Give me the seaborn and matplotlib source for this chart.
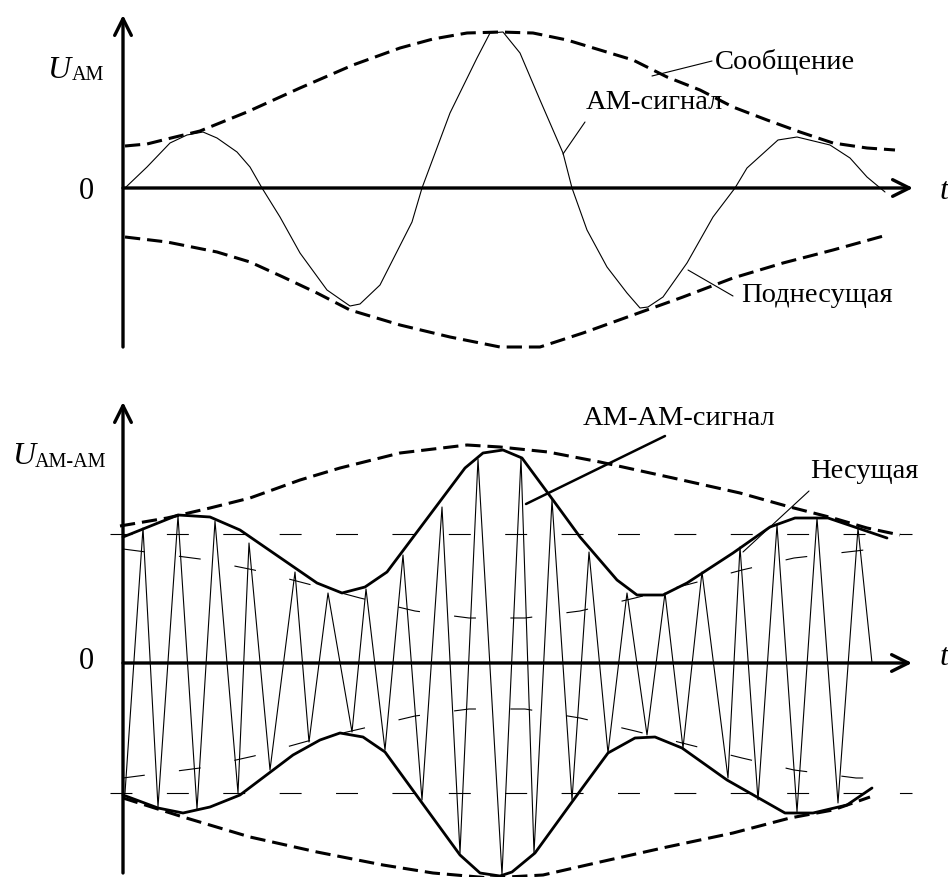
import matplotlib
matplotlib.use("Agg")
import matplotlib.pyplot as plt
import seaborn as sns

# ---- top panel: AM signal, message envelope ----
am_t = [0.2, 2.4, 4.7, 6.4, 8.0, 9.4, 11.4, 12.7, 13.9, 15.7, 17.7, 20.4, 22.7, 23.7,
        25.7, 28.9, 29.9, 32.7, 35.4, 36.7, 38.0, 39.7, 41.7, 44.0, 44.9, 46.4, 48.4,
        50.4, 51.7, 52.5, 54.0, 56.4, 59.0, 61.2, 62.4, 65.5, 67.4, 70.7, 72.7, 74.4, 76.2]
am_u = [0.0, 0.21, 0.45, 0.53, 0.56, 0.50, 0.36, 0.21, 0.0, -0.29, -0.65, -1.02, -1.18, -1.16,
        -0.97, -0.34, 0.0, 0.75, 1.30, 1.55, 1.56, 1.35, 0.88, 0.35, 0.0, -0.42, -0.79,
        -1.05, -1.20, -1.19, -1.09, -0.75, -0.29, 0.0, 0.20, 0.48, 0.51, 0.43, 0.30, 0.11, -0.04]

msg_top_t = [0.2, 2.4, 4.4, 7.7, 12.4, 17.7, 23.0, 27.7, 31.0, 34.4, 37.7, 41.0, 44.4, 47.7,
             51.0, 54.4, 57.7, 61.0, 64.4, 67.7, 71.0, 74.4, 77.2]
msg_top_u = [0.42, 0.44, 0.49, 0.57, 0.76, 1.00, 1.23, 1.40, 1.49, 1.55, 1.56, 1.55, 1.48, 1.38,
             1.28, 1.11, 0.98, 0.81, 0.68, 0.56, 0.45, 0.40, 0.38]
msg_bot_t = [0.2, 4.4, 9.4, 12.7, 16.0, 19.4, 22.7, 27.7, 32.7, 37.7, 41.7, 46.0, 51.0, 56.0,
             61.0, 66.0, 71.0, 76.4]
msg_bot_u = [-0.49, -0.54, -0.64, -0.74, -0.89, -1.05, -1.22, -1.37, -1.49, -1.59, -1.59, -1.45,
             -1.27, -1.09, -0.90, -0.75, -0.62, -0.47]

# ---- bottom panel: AM-AM signal (peaks / troughs of the carrier) ----
carrier_t = [0.2, 2.0, 3.5, 5.5, 7.4, 9.2, 11.5, 12.6, 14.7, 17.2, 18.6, 20.5, 22.9, 24.3, 26.2,
             28.0, 29.9, 31.9, 33.7, 35.5, 37.9, 39.8, 41.1, 42.9, 44.9, 46.6, 48.5, 50.4, 52.4,
             54.2, 56.0, 57.9, 60.5, 61.7, 63.5, 65.4, 67.4, 69.4, 71.5, 73.5, 74.9]
carrier_u = [-1.30, 1.35, -1.44, 1.47, -1.46, 1.42, -1.30, 1.20, -1.07, 0.91, -0.79, 0.70, -0.69,
             0.74, -0.87, 1.08, -1.37, 1.56, -1.90, 2.04, -2.12, 2.05, -1.90, 1.63, -1.37, 1.11,
             -0.90, 0.70, -0.72, 0.70, -0.85, 0.91, -1.15, 1.16, -1.37, 1.38, -1.49, 1.45, -1.40,
             1.35, 0.0]

env_up_t = [0.0, 5.5, 8.7, 11.7, 19.4, 21.9, 24.2, 26.4, 34.2, 36.0, 38.0, 39.9, 43.0, 45.7,
            49.4, 51.4, 54.0, 56.4, 61.0, 64.7, 67.2, 70.5, 76.4]
env_up_u = [1.26, 1.48, 1.46, 1.33, 0.80, 0.70, 0.76, 0.91, 1.95, 2.10, 2.13, 2.05, 1.63, 1.26,
            0.83, 0.68, 0.68, 0.80, 1.10, 1.36, 1.45, 1.45, 1.25]
env_lo_t = [0.0, 3.5, 6.0, 8.7, 11.7, 17.0, 19.7, 21.7, 24.0, 26.2, 33.7, 35.7, 37.7, 38.9, 41.2,
            44.9, 48.5, 51.2, 53.2, 55.9, 60.4, 66.2, 69.0, 72.4, 74.9]
env_lo_u = [-1.32, -1.45, -1.50, -1.44, -1.32, -0.92, -0.77, -0.70, -0.74, -0.89, -1.92, -2.10,
            -2.13, -2.09, -1.90, -1.39, -0.90, -0.75, -0.74, -0.85, -1.17, -1.50, -1.50, -1.42, -1.25]

msg2_top_t = [-0.3, 4.4, 8.7, 12.7, 17.7, 21.7, 27.7, 34.4, 37.7, 42.5, 47.7, 55.0, 61.7, 66.7,
              71.0, 74.4, 77.7]
msg2_top_u = [1.37, 1.45, 1.55, 1.65, 1.83, 1.95, 2.10, 2.18, 2.16, 2.11, 2.01, 1.85, 1.70, 1.56,
              1.45, 1.35, 1.28]
msg2_bot_t = [0.0, 6.0, 12.7, 19.4, 26.0, 31.0, 36.7, 42.0, 47.7, 54.4, 61.0, 66.7, 71.0, 74.7]
msg2_bot_u = [-1.35, -1.54, -1.74, -1.89, -2.02, -2.10, -2.15, -2.12, -1.99, -1.84, -1.70, -1.55,
              -1.47, -1.34]

sub_t = [0.0, 7.7, 13.1, 18.5, 23.7, 29.2, 34.6, 40.2, 45.7, 51.2, 56.7, 61.9, 67.1, 73.3, 74.9]
sub_top_u = [1.14, 1.04, 0.93, 0.79, 0.65, 0.52, 0.45, 0.45, 0.52, 0.65, 0.79, 0.93, 1.05, 1.12, 1.14]
sub_bot_u = [-1.15, -1.05, -0.93, -0.78, -0.66, -0.53, -0.46, -0.46, -0.55, -0.68, -0.82, -0.95,
             -1.07, -1.15, -1.15]

carrier_level = [1.29, -1.30]
level_t = [-1.3, 78.9]

sns.set_theme(style="white")
plt.rcParams['font.family'] = ['Liberation Serif', 'DejaVu Serif']
plt.rcParams['text.color'] = 'black'
plt.rcParams['lines.scale_dashes'] = False

fig = plt.figure(figsize=(9.48, 8.77), dpi=100)
ax1 = fig.add_axes([0, 0.5439, 1, 0.4561])
ax2 = fig.add_axes([0, 0, 1, 0.5439])


def curve(ax, t, u, lw, dashes=None):
    sns.lineplot(x=t, y=u, ax=ax, sort=False, estimator=None, color='black', linewidth=lw)
    line = ax.lines[-1]
    if dashes is not None:
        line.set_dashes(dashes)
    line.set_solid_joinstyle('round')
    line.set_clip_on(False)


def axis_arrow(ax, start, end):
    ax.annotate('', xy=end, xytext=start,
                arrowprops=dict(arrowstyle='->,head_length=0.6,head_width=0.3',
                                lw=2.4, color='black', mutation_scale=20,
                                shrinkA=0, shrinkB=0))


def leader(ax, a, b, lw=0.8):
    ax.annotate('', xy=b, xytext=a,
                arrowprops=dict(arrowstyle='-', lw=lw, color='black', shrinkA=0, shrinkB=0))


env_dash = (11, 5)
thin_dash = (15.8, 24.8)
label_size = 20.5

# top panel
curve(ax1, msg_top_t, msg_top_u, 2.2, env_dash)
curve(ax1, msg_bot_t, msg_bot_u, 2.2, env_dash)
curve(ax1, am_t, am_u, 0.8)
axis_arrow(ax1, (0, -1.59), (0, 1.73))
axis_arrow(ax1, (0, 0), (79.0, 0))

ax1.text(-3.7, -0.04, '0', fontsize=22, ha='center', va='center')
ax1.text(81.7, -0.04, 't', fontsize=23, style='italic', ha='left', va='center')
ax1.text(-7.6, 1.10, 'U', fontsize=23, style='italic', ha='left', va='baseline')
ax1.text(-5.1, 1.08, 'АМ', fontsize=14.5, ha='left', va='baseline')

ax1.text(59.2, 1.26, 'Сообщение', fontsize=label_size, ha='left', va='center')
leader(ax1, (52.9, 1.12), (58.9, 1.27))
ax1.text(46.3, 0.85, 'АМ-сигнал', fontsize=label_size, ha='left', va='center')
leader(ax1, (46.2, 0.66), (44.0, 0.34))
ax1.text(61.8, -1.08, 'Поднесущая', fontsize=label_size, ha='left', va='center')
leader(ax1, (56.5, -0.82), (61.0, -1.08))

ax1.set_xlim(-12.3, 82.5)
ax1.set_ylim(-2.12, 1.88)
ax1.set_axis_off()

# bottom panel
for lvl in carrier_level:
    curve(ax2, level_t, [lvl, lvl], 0.8, thin_dash)
curve(ax2, sub_t, sub_top_u, 0.8, thin_dash)
curve(ax2, sub_t, sub_bot_u, 0.8, thin_dash)
curve(ax2, msg2_top_t, msg2_top_u, 2.2, env_dash)
curve(ax2, msg2_bot_t, msg2_bot_u, 2.2, env_dash)
curve(ax2, carrier_t, carrier_u, 0.8)
curve(ax2, env_up_t, env_up_u, 2.0)
curve(ax2, env_lo_t, env_lo_u, 2.0)
axis_arrow(ax2, (0, -2.10), (0, 2.61))
axis_arrow(ax2, (0, 0), (78.9, 0))

ax2.text(-3.7, 0.01, '0', fontsize=22, ha='center', va='center')
ax2.text(81.7, 0.05, 't', fontsize=23, style='italic', ha='left', va='center')
ax2.text(-11.1, 1.99, 'U', fontsize=23, style='italic', ha='left', va='baseline')
ax2.text(-8.8, 1.96, 'АМ-АМ', fontsize=14.5, ha='left', va='baseline')

ax2.text(46.0, 2.44, 'АМ-АМ-сигнал', fontsize=label_size, ha='left', va='center')
leader(ax2, (54.2, 2.27), (40.3, 1.59), lw=1.8)
ax2.text(68.7, 1.91, 'Несущая', fontsize=label_size, ha='left', va='center')
leader(ax2, (68.6, 1.72), (62.0, 1.11))

ax2.set_xlim(-12.3, 82.5)
ax2.set_ylim(-2.14, 2.63)
ax2.set_axis_off()

fig.savefig('out.png', dpi=100)
